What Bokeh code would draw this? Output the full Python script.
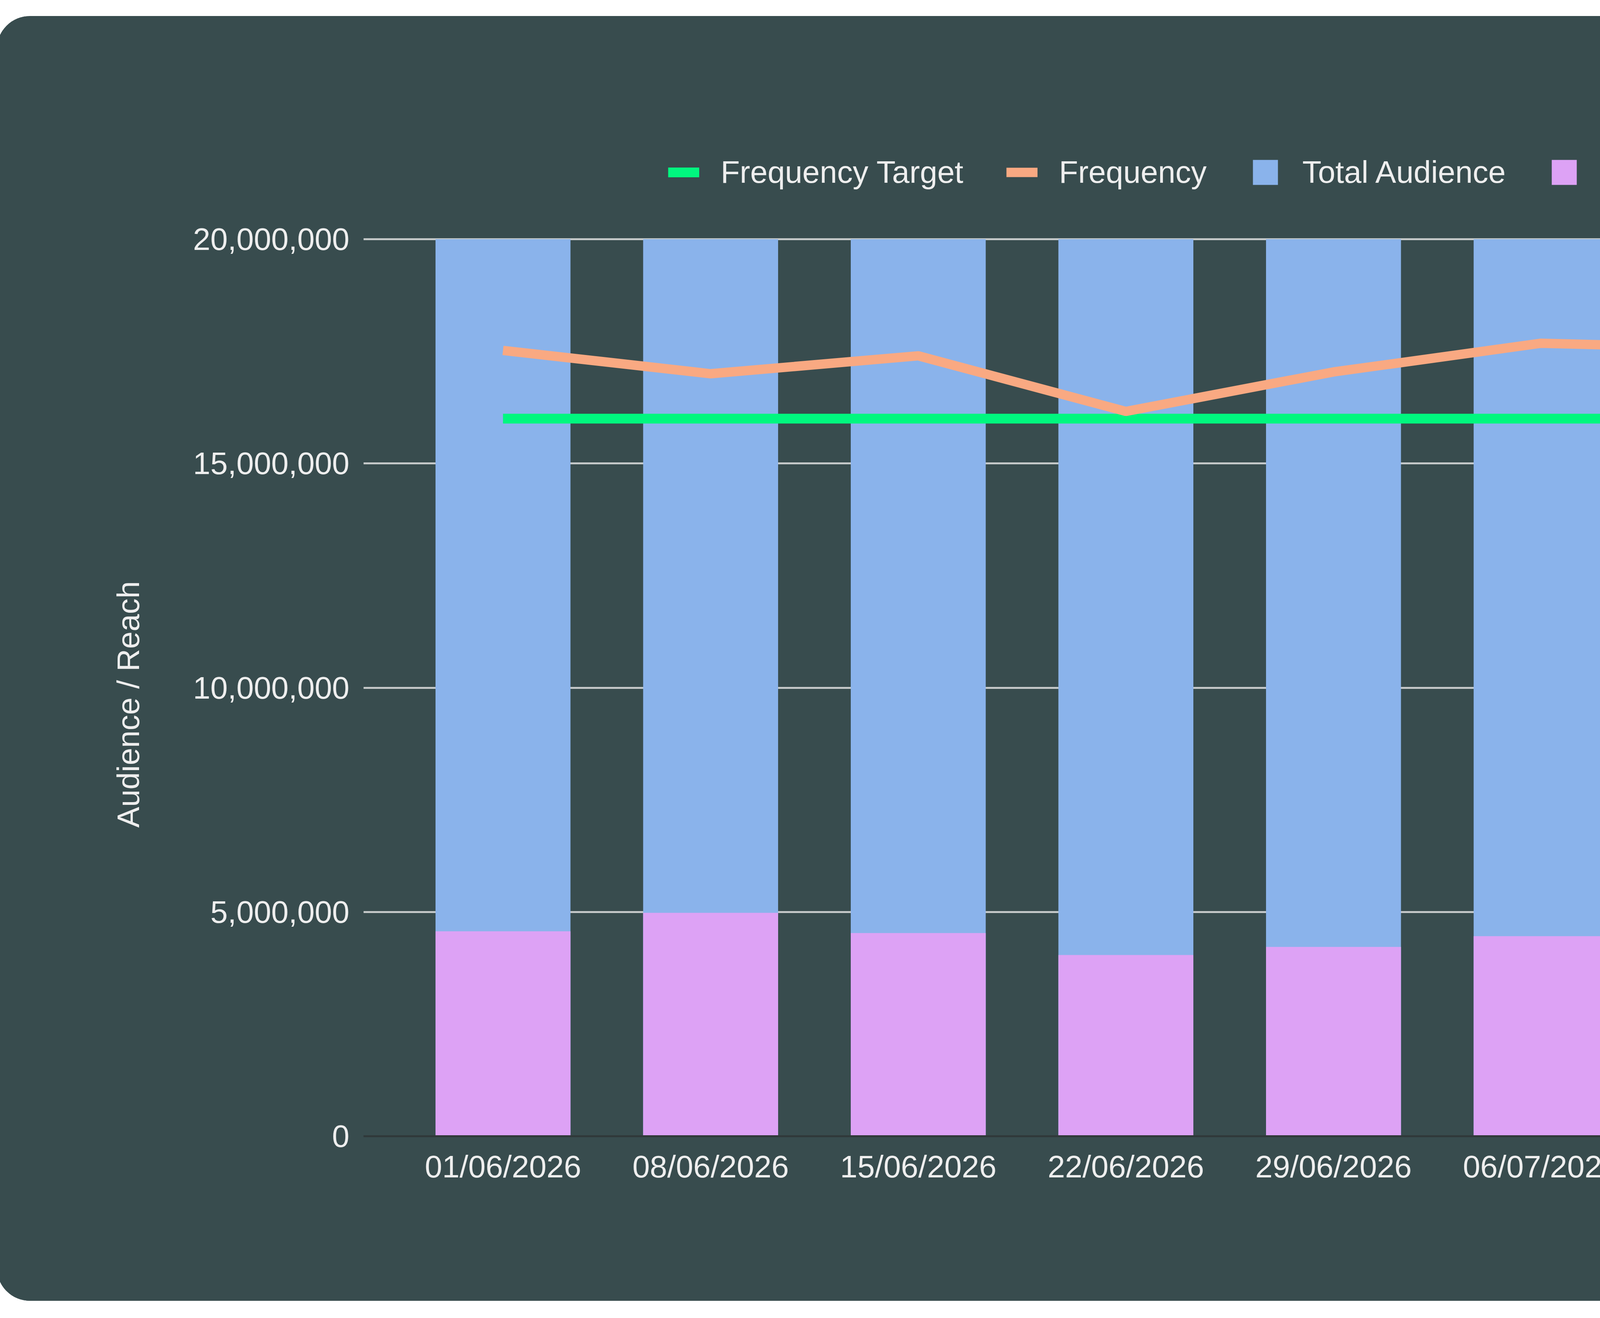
import math
from bokeh.plotting import figure
from bokeh.models import (Range1d, LinearAxis, FixedTicker, NumeralTickFormatter,
                          PrintfTickFormatter, Legend, LegendItem, ColumnDataSource, Title)
from bokeh.embed import file_html
from bokeh.resources import INLINE

# ---- data ----
dates = ["01/06/2026", "08/06/2026", "15/06/2026", "22/06/2026",
         "29/06/2026", "06/07/2026", "13/07/2026", "20/07/2026"]
total_audience = [20000000, 20000000, 20000000, 20000000,
                  20000000, 20000000, 20000000, 20000000]
reach = [4570000, 4980000, 4530000, 4040000, 4220000, 4460000, 8620000, 9330000]
frequency = [2.19, 2.125, 2.175, 2.02, 2.13, 2.21, 2.195, 2.14]
frequency_target = [2.0, 2.0, 2.0, 2.0, 2.0, 2.0, 2.0, 2.0]
left_ticks = [0, 5000000, 10000000, 15000000, 20000000]
right_ticks = [0.0, 0.5, 1.0, 1.5, 2.0, 2.5]

# ---- style ----
BG = "#384c4e"
BLUE = "#8ab3eb"
VIOLET = "#dda2f5"
ORANGE = "#f9a982"
GREEN = "#00f77f"
TEXT = "#eeeeee"
GRID = "#c4c8c8"
BASE = "#30393a"
FONT = "Liberation Sans"
FS = "80px"

# layout (pixels inside the figure)
W, H = 5998, 3290
TOP, BOTTOM, LEFT, RIGHT = 340, 422, 938, 625
PLOT_H = H - TOP - BOTTOM
AXIS_H = 2297            # pixel height of the 0..20M / 0..2.5 span
ext = PLOT_H / AXIS_H    # frame extends above the top tick to hold the legend

xs = list(range(len(dates)))
src = ColumnDataSource(dict(x=xs, total=total_audience, reach=reach,
                            freq=frequency, target=frequency_target))

p = figure(width=W, height=H,
           x_range=Range1d(-0.672, 7.672),
           y_range=Range1d(0, left_ticks[-1] * ext),
           output_backend="svg", toolbar_location=None,
           min_border_left=LEFT, min_border_right=RIGHT,
           min_border_top=TOP, min_border_bottom=BOTTOM)
p.styles = {"border-radius": "85px", "overflow": "hidden",
            "background-color": BG,
            "margin-top": "41px", "margin-left": "-8px"}
p.background_fill_alpha = 0
p.border_fill_color = BG
p.outline_line_color = None
p.extra_y_ranges = {"freq": Range1d(0, right_ticks[-1] * ext)}

# grid
p.xgrid.grid_line_color = None
p.ygrid.ticker = FixedTicker(ticks=left_ticks[1:])
p.ygrid.grid_line_color = GRID
p.ygrid.grid_line_width = 5

# left axis
ya = p.yaxis[0]
ya.ticker = FixedTicker(ticks=left_ticks)
ya.formatter = NumeralTickFormatter(format="0,0")
ya.axis_line_color = None
ya.major_tick_line_color = None
ya.minor_tick_line_color = None
ya.major_label_standoff = 30
ya.major_label_text_font = FONT
ya.major_label_text_font_size = FS
ya.major_label_text_color = TEXT

# bottom axis
xa = p.xaxis[0]
xa.ticker = FixedTicker(ticks=xs)
xa.major_label_overrides = {i: d for i, d in zip(xs, dates)}
xa.axis_line_color = BASE
xa.axis_line_width = 5
xa.major_tick_line_color = None
xa.minor_tick_line_color = None
xa.major_label_standoff = 27
xa.major_label_text_font = FONT
xa.major_label_text_font_size = FS
xa.major_label_text_color = TEXT

# right axis
ra = LinearAxis(y_range_name="freq", ticker=FixedTicker(ticks=right_ticks),
                formatter=PrintfTickFormatter(format="%.1f"))
ra.axis_line_color = None
ra.major_tick_line_color = None
ra.minor_tick_line_color = None
ra.major_label_standoff = 21
ra.major_label_text_font = FONT
ra.major_label_text_font_size = FS
ra.major_label_text_color = TEXT
ra.axis_label = "Frequency"
ra.axis_label_standoff = 182
ra.axis_label_text_font = FONT
ra.axis_label_text_font_size = FS
ra.axis_label_text_font_style = "normal"
ra.axis_label_text_color = TEXT
ra.axis_label_text_align = "right"
if "axis_label_orientation" in ra.properties():
    ra.axis_label_orientation = math.pi / 2
p.add_layout(ra, "right")

# left axis title
lt = Title(text="Audience / Reach", align="left", offset=790, standoff=238,
           text_font=FONT, text_font_size=FS, text_font_style="normal",
           text_color=TEXT)
p.add_layout(lt, "left")

# glyphs
r_total = p.vbar(x="x", top="total", bottom=0, width=0.65, source=src,
                 fill_color=BLUE, line_color=None)
r_reach = p.vbar(x="x", top="reach", bottom=0, width=0.65, source=src,
                 fill_color=VIOLET, line_color=None)
r_target = p.line(x="x", y="target", source=src, y_range_name="freq",
                  line_color=GREEN, line_width=25)
r_freq = p.line(x="x", y="freq", source=src, y_range_name="freq",
                line_color=ORANGE, line_width=24)

legend = Legend(items=[LegendItem(label="Frequency Target", renderers=[r_target]),
                       LegendItem(label="Frequency", renderers=[r_freq]),
                       LegendItem(label="Total Audience", renderers=[r_total]),
                       LegendItem(label="Reach", renderers=[r_reach])],
                location=(780, PLOT_H - 106), orientation="horizontal",
                glyph_width=80, glyph_height=80, label_standoff=55, spacing=110,
                padding=0, margin=0, background_fill_alpha=0, border_line_color=None,
                label_text_font=FONT, label_text_font_size=FS,
                label_text_color=TEXT, label_height=80)
p.add_layout(legend)

open("out.html", "w").write(file_html(p, INLINE))
